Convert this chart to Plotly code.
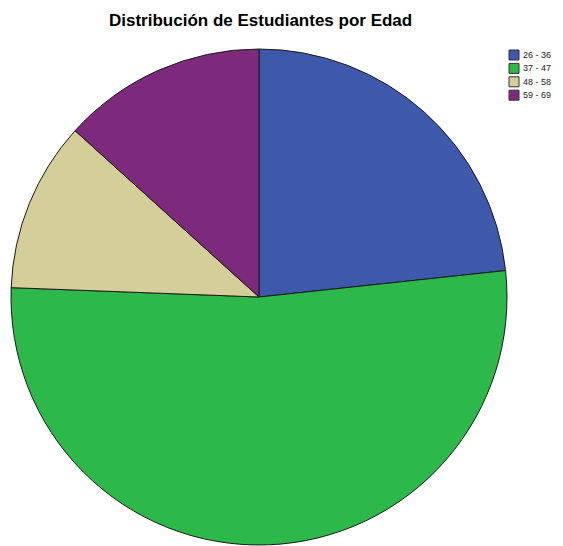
import plotly.graph_objects as go

labels = ["26 - 36", "37 - 47", "48 - 58", "59 - 69"]
percents = [23.3, 52.3, 11.1, 13.3]
colors = ["#3E58AC", "#2DB84A", "#D4CE98", "#7D2A7D"]

W, H = 563, 546
OFF = 8  # page body margin offset
cx, cy, r = 259 - OFF, 297 - OFF, 248

fig = go.Figure(go.Pie(
    labels=labels, values=percents, sort=False, direction="clockwise", rotation=0,
    marker=dict(colors=colors, line=dict(color="#1a1a1a", width=1)),
    textinfo="none", hoverinfo="label+percent",
    domain=dict(x=[(cx - r) / W, (cx + r) / W], y=[(H - cy - r) / H, (H - cy + r) / H]),
    showlegend=False,
))

shapes = []
annotations = [dict(text="<b>Distribución de Estudiantes por Edad</b>", x=(260 - OFF) / W, y=1 - (20 - OFF) / H,
                    xref="paper", yref="paper", xanchor="center", yanchor="middle", showarrow=False,
                    font=dict(family="Liberation Sans, Arial", size=17, color="black"))]
for i, (lab, col) in enumerate(zip(labels, colors)):
    yc = 55 + i * 13.4 - OFF
    shapes.append(dict(type="rect", xref="paper", yref="paper",
                       x0=(509 - OFF) / W, x1=(519 - OFF) / W, y0=1 - (yc - 5) / H, y1=1 - (yc + 5) / H,
                       fillcolor=col, line=dict(color="#333333", width=1)))
    annotations.append(dict(text=lab, x=(521 - OFF) / W, y=1 - yc / H, xref="paper", yref="paper",
                            xanchor="left", yanchor="middle", showarrow=False,
                            font=dict(family="Liberation Sans, Arial", size=9, color="#222222")))

fig.update_layout(
    width=W, height=H, margin=dict(l=0, r=0, t=0, b=0),
    paper_bgcolor="white", plot_bgcolor="white",
    shapes=shapes, annotations=annotations, showlegend=False,
)

fig.write_html("out.html")
